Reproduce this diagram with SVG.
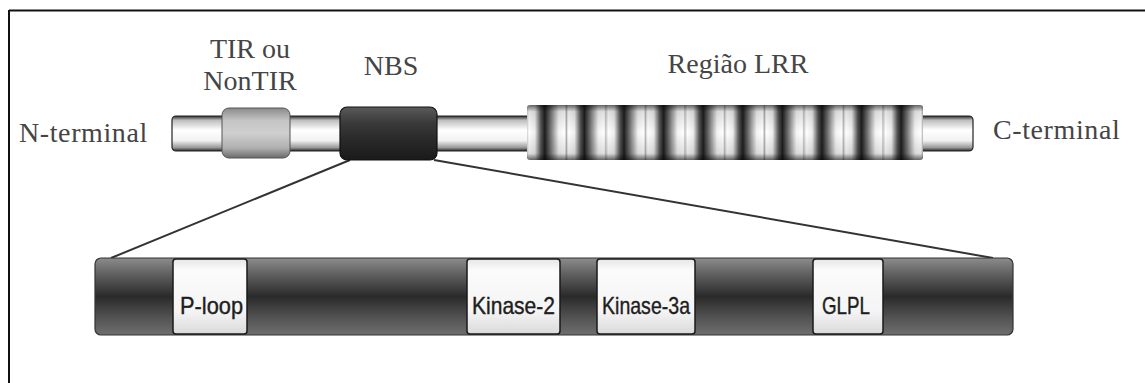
<svg xmlns="http://www.w3.org/2000/svg" width="1145" height="383" viewBox="0 0 1145 383">
  <defs>
    <linearGradient id="gCyl" x1="0" y1="0" x2="0" y2="1">
      <stop offset="0" stop-color="#2a2a2a"/>
      <stop offset="0.12" stop-color="#bdbdbd"/>
      <stop offset="0.4" stop-color="#ffffff"/>
      <stop offset="0.7" stop-color="#f2f2f2"/>
      <stop offset="0.9" stop-color="#9a9a9a"/>
      <stop offset="1" stop-color="#2a2a2a"/>
    </linearGradient>
    <linearGradient id="gTir" x1="0" y1="0" x2="0" y2="1">
      <stop offset="0" stop-color="#8a8a8a"/>
      <stop offset="0.25" stop-color="#c4c4c4"/>
      <stop offset="0.5" stop-color="#cfcfcf"/>
      <stop offset="0.8" stop-color="#b0b0b0"/>
      <stop offset="1" stop-color="#6a6a6a"/>
    </linearGradient>
    <linearGradient id="gNbs" x1="0" y1="0" x2="0" y2="1">
      <stop offset="0" stop-color="#5a5a5a"/>
      <stop offset="0.3" stop-color="#3a3a3a"/>
      <stop offset="0.6" stop-color="#2a2a2a"/>
      <stop offset="1" stop-color="#1a1a1a"/>
    </linearGradient>
    <linearGradient id="gLrrH" gradientUnits="userSpaceOnUse" x1="527" y1="0" x2="566.6" y2="0" spreadMethod="repeat">
      <stop offset="0" stop-color="#d0d0d0"/>
      <stop offset="0.05" stop-color="#ffffff"/>
      <stop offset="0.2" stop-color="#eeeeee"/>
      <stop offset="0.35" stop-color="#555555"/>
      <stop offset="0.45" stop-color="#1e1e1e"/>
      <stop offset="0.6" stop-color="#777777"/>
      <stop offset="0.8" stop-color="#f4f4f4"/>
      <stop offset="0.95" stop-color="#ffffff"/>
      <stop offset="1" stop-color="#b0b0b0"/>
    </linearGradient>
    <linearGradient id="gLrrV" x1="0" y1="0" x2="0" y2="1">
      <stop offset="0" stop-color="#000" stop-opacity="0.6"/>
      <stop offset="0.12" stop-color="#000" stop-opacity="0.12"/>
      <stop offset="0.5" stop-color="#000" stop-opacity="0"/>
      <stop offset="0.88" stop-color="#000" stop-opacity="0.12"/>
      <stop offset="1" stop-color="#000" stop-opacity="0.6"/>
    </linearGradient>
    <linearGradient id="gBar" x1="0" y1="0" x2="0" y2="1">
      <stop offset="0" stop-color="#8c8c8c"/>
      <stop offset="0.2" stop-color="#626262"/>
      <stop offset="0.5" stop-color="#2a2a2a"/>
      <stop offset="0.8" stop-color="#565656"/>
      <stop offset="1" stop-color="#6e6e6e"/>
    </linearGradient>
    <linearGradient id="gBox" x1="0" y1="0" x2="0" y2="1">
      <stop offset="0" stop-color="#e6e6e6"/>
      <stop offset="0.15" stop-color="#fbfbfb"/>
      <stop offset="0.7" stop-color="#f4f4f4"/>
      <stop offset="1" stop-color="#dadada"/>
    </linearGradient>
  </defs>
  <style>
    .lbl { font-size: 28px; fill: #454545; }
    .box { font-size: 24px; fill: #1e1e1e; stroke: #1e1e1e; stroke-width: 0.4; }
    .cyl { fill: url(#gCyl); stroke: #222; stroke-width: 1.2; }
    .segv { fill: url(#gLrrV); }
    .sep { stroke: #bbb; stroke-width: 1; }
    .mot { fill: url(#gBox); stroke: #1a1a1a; stroke-width: 1.5; }
    .conn { stroke: #333; stroke-width: 2; fill: none; }
  </style>
  <rect width="1145" height="383" fill="#ffffff"/>
  <g id="frame">
    <line x1="9" y1="10.5" x2="1145" y2="10.5" stroke="#111" stroke-width="2"/>
    <line x1="9" y1="10" x2="9" y2="383" stroke="#111" stroke-width="2"/>
  </g>

  <g id="connectors">
    <line class="conn" x1="350" y1="160" x2="111" y2="258"/>
    <line class="conn" x1="434" y1="160" x2="993" y2="258"/>
  </g>

  <g id="protein">
    <rect class="cyl" x="172" y="116" width="801" height="35" rx="4"/>
  </g>
  <g id="tir">
    <rect x="222" y="108" width="68" height="50" rx="7" fill="url(#gTir)" stroke="#555" stroke-width="1"/>
  </g>
  <g id="nbs">
    <rect x="340" y="107" width="97" height="53" rx="7" fill="url(#gNbs)" stroke="#111" stroke-width="1.2"/>
  </g>
  <g id="lrr">
    <rect x="527" y="105" width="396" height="55" rx="3" fill="url(#gLrrH)"/>
    <rect class="segv" x="527" y="105" width="396" height="55" rx="3"/>
  </g>

  <g id="labels" font-family="'Liberation Serif', 'DejaVu Serif', 'Times New Roman', serif">
    <text class="lbl" x="19" y="142" letter-spacing="0.6">N-terminal</text>
    <text class="lbl" x="250" y="58" text-anchor="middle">TIR ou</text>
    <text class="lbl" x="250" y="90" text-anchor="middle">NonTIR</text>
    <text class="lbl" x="391" y="75" text-anchor="middle">NBS</text>
    <text class="lbl" x="738" y="73" text-anchor="middle">Região LRR</text>
    <text class="lbl" x="993" y="139" letter-spacing="0.6">C-terminal</text>
  </g>

  <g id="nbs-detail">
    <rect x="95" y="258" width="918" height="77" rx="6" fill="url(#gBar)" stroke="#333" stroke-width="1.2"/>
  </g>
  <g font-family="'Liberation Sans', Arial, sans-serif">
    <g id="p-loop">
      <rect class="mot" x="173" y="259" width="74" height="75" rx="3"/>
      <text class="box" x="180" y="314" textLength="63" lengthAdjust="spacingAndGlyphs">P-loop</text>
    </g>
    <g id="kinase-2">
      <rect class="mot" x="467" y="259" width="93" height="75" rx="3"/>
      <text class="box" x="472" y="314" textLength="83" lengthAdjust="spacingAndGlyphs">Kinase-2</text>
    </g>
    <g id="kinase-3a">
      <rect class="mot" x="597" y="259" width="98" height="75" rx="3"/>
      <text class="box" x="602" y="314" textLength="88" lengthAdjust="spacingAndGlyphs">Kinase-3a</text>
    </g>
    <g id="glpl">
      <rect class="mot" x="813" y="259" width="70" height="75" rx="3"/>
      <text class="box" x="822" y="314" textLength="48" lengthAdjust="spacingAndGlyphs">GLPL</text>
    </g>
  </g>
</svg>
